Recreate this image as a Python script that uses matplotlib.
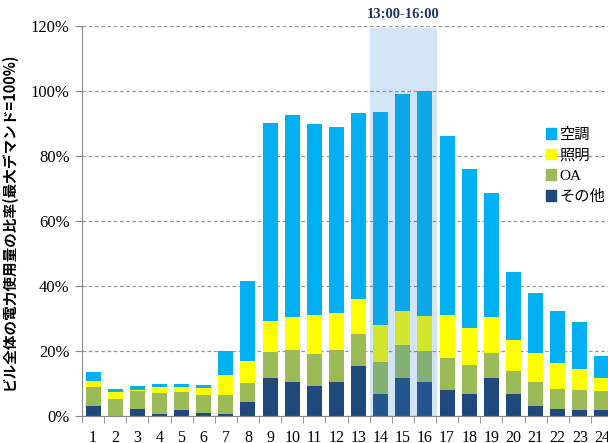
import numpy as np
import matplotlib
import matplotlib.pyplot as plt
from matplotlib.patches import Patch

matplotlib.rcParams['font.family'] = ['Liberation Serif', 'Noto Sans CJK JP']

# 時刻 1..24
hours = [str(h) for h in range(1, 25)]

# 各用途の比率（%）
sonota = [3.2, 0.0, 2.2, 0.7, 1.9, 1.0, 0.7, 4.4, 11.8, 10.6, 9.3, 10.6,
          15.5, 6.9, 11.8, 10.6, 8.1, 6.9, 11.8, 6.9, 3.2, 2.3, 1.9, 1.9]
oa_top = [9.0, 5.3, 7.6, 7.1, 7.4, 6.4, 6.4, 10.3, 19.6, 20.4, 19.2, 20.4,
          25.2, 16.6, 21.8, 20.1, 18.0, 15.7, 19.4, 13.9, 10.4, 8.4, 8.1, 7.6]
light_top = [10.8, 7.4, 8.0, 8.9, 8.9, 8.7, 12.5, 16.9, 29.3, 30.4, 31.1, 31.6,
             36.0, 27.9, 32.3, 30.9, 31.1, 27.0, 30.4, 23.3, 19.4, 16.2, 14.6, 11.6]
total = [13.4, 8.4, 9.2, 9.8, 9.8, 9.6, 19.9, 41.5, 90.2, 92.6, 89.7, 88.9,
         93.1, 93.5, 99.1, 100.0, 86.1, 76.0, 68.6, 44.2, 37.8, 32.3, 28.9, 18.6]

sonota = np.array(sonota)
oa = np.array(oa_top) - sonota
light = np.array(light_top) - np.array(oa_top)
aircon = np.array(total) - np.array(light_top)

colors = {'空調': '#00B0F0', '照明': '#FFFF00', 'OA': '#9BBB59', 'その他': '#1F497D'}

fig = plt.figure(figsize=(6.08, 4.43), dpi=100)
ax = fig.add_axes([82 / 608, 27 / 443, 531 / 608, 390 / 443])

x = np.arange(1, 25)
w = 0.68
ax.bar(x, sonota, w, color=colors['その他'], zorder=2)
ax.bar(x, oa, w, bottom=sonota, color=colors['OA'], zorder=2)
ax.bar(x, light, w, bottom=sonota + oa, color=colors['照明'], zorder=2)
ax.bar(x, aircon, w, bottom=sonota + oa + light, color=colors['空調'], zorder=2)

# 13:00-16:00 の網掛け
ax.axvspan(13.5, 16.55, ymin=0, ymax=119.3 / 120, color='#3A8AD0', alpha=0.22,
           lw=0, zorder=3)
ax.text(15.03, 121.5, '13:00-16:00', ha='center', va='bottom', fontsize=10.5,
        fontweight='bold', color='#1F3864')

ax.set_xlim(0.5, 24.5)
ax.set_ylim(0, 120)
ax.set_yticks(np.arange(0, 121, 20))
ax.set_yticklabels([f'{v}%' for v in range(0, 121, 20)], fontsize=12)
ax.set_xticks(x)
ax.set_xticklabels(hours, fontsize=11.5)
ax.set_xticks(np.arange(0.5, 25, 1), minor=True)
ax.tick_params(axis='x', which='major', length=0, pad=10)
ax.tick_params(axis='x', which='minor', length=5, color='#888888', direction='out')
ax.tick_params(axis='y', length=5, color='#888888', pad=4)

ax.yaxis.grid(True, linestyle=(0, (3, 2)), color='#999999', lw=0.9, zorder=0)
ax.set_axisbelow(True)
for s in ['top', 'right']:
    ax.spines[s].set_visible(False)
for s in ['left', 'bottom']:
    ax.spines[s].set_color('#888888')

ax.set_ylabel('ビル全体の電力使用量の比率(最大デマンド=100%)', fontsize=10.5,
              fontweight='bold', family=['Noto Sans CJK JP'], labelpad=10)

handles = [Patch(color=colors[k]) for k in ['空調', '照明', 'OA', 'その他']]
fig.legend(handles, ['空調', '照明', 'OA', 'その他'], loc='upper left',
           bbox_to_anchor=(532 / 608, 1 - 114 / 443), frameon=False,
           fontsize=11, handlelength=0.7, handleheight=0.7, handletextpad=0.2,
           labelspacing=0.45)

fig.savefig('out.png', dpi=100)
